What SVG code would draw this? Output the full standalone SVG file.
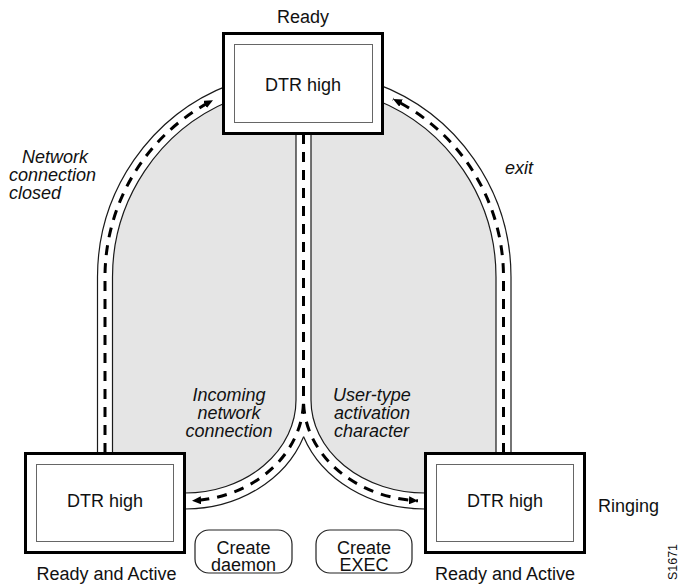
<svg xmlns="http://www.w3.org/2000/svg" width="680" height="586" viewBox="0 0 680 586">
  <style>
    text { font-family: "Liberation Sans", Arial, sans-serif; font-size: 18px; fill: #111; }
    .lbl { font-style: italic; }
    .ctr { text-anchor: middle; }
    .area { fill: #e5e5e5; stroke: none; }
    .edge { fill: none; stroke: #1a1a1a; stroke-width: 1.2; }
    .lane { fill: none; stroke: #000; stroke-width: 3; stroke-dasharray: 10 8; }
    .outer { fill: #fff; stroke: #000; stroke-width: 3; }
    .inner { fill: #fff; stroke: #666; stroke-width: 1; }
    .action { fill: #fff; stroke: #222; stroke-width: 1.2; }
  </style>
  <defs>
    <marker id="tip" markerUnits="userSpaceOnUse" markerWidth="10" markerHeight="8" refX="9" refY="4" orient="auto">
      <path d="M0,0 L9,4 L0,8 z" fill="#000"/>
    </marker>
  </defs>

  <!-- shaded areas inside the loops -->
  <g id="areas">
    <path class="area" d="M230,100.7 A191,191 0 0 0 112.5,277 V453 H185 V493 A111,93 0 0 0 296,400 V134 H230 Z"/>
    <path class="area" d="M376,99.7 A191,191 0 0 1 496,277 V453 H425 V493 A114,93 0 0 1 311,400 V134 H376 Z"/>
  </g>

  <!-- connectors: road edges and dashed lanes -->
  <g id="connectors">
    <!-- left loop -->
    <path class="edge" d="M230,84.6 A206,206 0 0 0 97.5,277 V453"/>
    <path class="edge" d="M230,100.7 A191,191 0 0 0 112.5,277 V453"/>
    <path class="lane" d="M105,453 V277 A198.5,198.5 0 0 1 213,100.3" marker-end="url(#tip)"/>
    <!-- right loop -->
    <path class="edge" d="M376,83.6 A206,206 0 0 1 511,277 V453"/>
    <path class="edge" d="M376,99.7 A191,191 0 0 1 496,277 V453"/>
    <path class="lane" d="M503.5,453 V277 A198.5,198.5 0 0 0 393,99.1" marker-end="url(#tip)"/>
    <!-- centre stem and its two branches -->
    <path class="edge" d="M296,134 V400 A111,93 0 0 1 185,493"/>
    <path class="edge" d="M311,134 V400 A114,93 0 0 0 425,493"/>
    <path class="edge" d="M303.5,437 A126,109 0 0 1 185,509"/>
    <path class="edge" d="M303.5,436.6 A129,109 0 0 0 425,509"/>
    <path class="lane" d="M303.5,134 V400 A118.5,101 0 0 1 192,500.8" marker-end="url(#tip)"/>
    <path class="lane" d="M303.5,134 V400 A121.5,101 0 0 0 418,500.8" marker-end="url(#tip)"/>
  </g>

  <!-- transition labels -->
  <g id="labels">
    <text class="lbl" x="22" y="163">Network</text>
    <text class="lbl" x="9" y="181">connection</text>
    <text class="lbl" x="9" y="199">closed</text>
    <text class="lbl" x="505" y="174">exit</text>
    <text class="lbl ctr" x="229" y="401">Incoming</text>
    <text class="lbl ctr" x="229" y="419">network</text>
    <text class="lbl ctr" x="229" y="437">connection</text>
    <text class="lbl" x="333" y="401">User-type</text>
    <text class="lbl" x="334" y="419">activation</text>
    <text class="lbl" x="334" y="437">character</text>
  </g>

  <!-- states -->
  <g id="state-ready">
    <rect class="outer" x="223.5" y="33.5" width="159" height="100"/>
    <rect class="inner" x="234.5" y="44.5" width="138" height="78"/>
    <text class="ctr" x="303" y="91">DTR high</text>
    <text class="ctr" x="303" y="23">Ready</text>
  </g>
  <g id="state-active-left">
    <rect class="outer" x="25.5" y="453.5" width="159" height="99"/>
    <rect class="inner" x="36.5" y="464.5" width="137" height="77"/>
    <text class="ctr" x="105" y="507">DTR high</text>
    <text class="ctr" x="106.5" y="580">Ready and Active</text>
  </g>
  <g id="state-active-right">
    <rect class="outer" x="425.5" y="453.5" width="159" height="99"/>
    <rect class="inner" x="436.5" y="464.5" width="137" height="77"/>
    <text class="ctr" x="505" y="507">DTR high</text>
    <text class="ctr" x="505" y="580">Ready and Active</text>
    <text x="598" y="512">Ringing</text>
  </g>

  <!-- actions -->
  <g id="action-daemon">
    <rect class="action" x="195" y="530" width="97" height="43" rx="14"/>
    <text class="ctr" x="243.5" y="554">Create</text>
    <text class="ctr" x="243.5" y="571">daemon</text>
  </g>
  <g id="action-exec">
    <rect class="action" x="316" y="530" width="96" height="43" rx="14"/>
    <text class="ctr" x="364" y="554">Create</text>
    <text class="ctr" x="364" y="571">EXEC</text>
  </g>

  <text class="ctr" style="font-size:12.5px" transform="translate(677,562) rotate(-90)">S1671</text>
</svg>
